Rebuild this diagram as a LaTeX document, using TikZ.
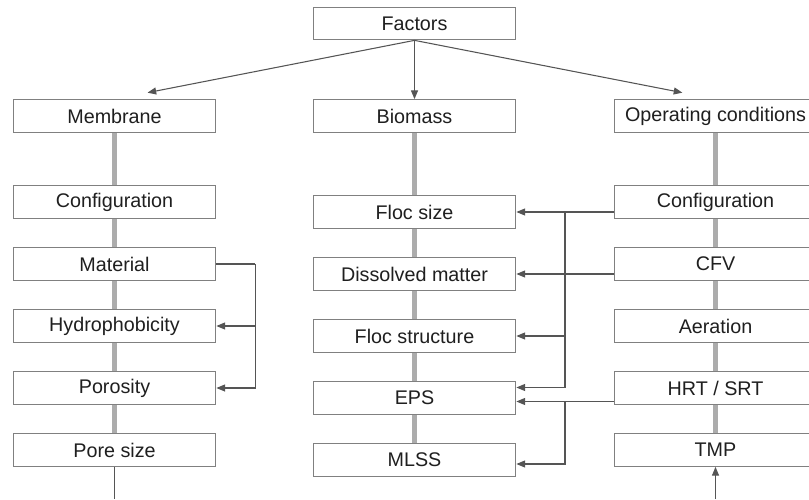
\documentclass[tikz,border=0pt]{standalone}
\usepackage{fontspec}
\setmainfont{Liberation Sans}
\usetikzlibrary{
  arrows.meta,
  positioning,
  calc,
  backgrounds
}
\definecolor{boxgray}{RGB}{128,128,128}
\definecolor{linegray}{RGB}{85,85,85}
\definecolor{spinegray}{RGB}{172,172,172}

\begin{document}
\begin{tikzpicture}[x=0.75pt,y=-0.75pt,
  box/.style={draw=boxgray,fill=white,line width=0.8pt,minimum width=152pt,
    minimum height=24.5pt,inner sep=0pt,text=black!88,
    font=\fontsize{14.8}{17}\selectfont},
  spine/.style={draw=black!45,line width=0.5pt,double=spinegray,double distance=3.4pt},
  conn/.style={draw=linegray,line width=0.8pt},
  arr/.style={conn,-{Triangle[length=6.5pt,width=5.2pt]}}]
  \useasboundingbox (0,0) rectangle (809,499);

  % top level
  \node[box] (fac) at (414.5,23.5) {Factors};
  \node[box] (mem) at (114.5,116) {Membrane};
  \node[box] (bio) at (414.5,116) {Biomass};
  \node[box] (opc) at (715.5,116) {Operating conditions};

  % membrane column
  \node[box] (mcfg) at (114.5,202) {Configuration};
  \node[box] (mat)  at (114.5,264) {Material};
  \node[box] (hyd)  at (114.5,326) {Hydrophobicity};
  \node[box] (por)  at (114.5,388) {Porosity};
  \node[box] (pore) at (114.5,450) {Pore size};

  % biomass column
  \node[box] (fls) at (414.5,212) {Floc size};
  \node[box] (dis) at (414.5,274) {Dissolved matter};
  \node[box] (fst) at (414.5,336) {Floc structure};
  \node[box] (eps) at (414.5,398) {EPS};
  \node[box] (mls) at (414.5,460) {MLSS};

  % operating conditions column
  \node[box] (ocfg) at (715.5,202) {Configuration};
  \node[box] (cfv)  at (715.5,264) {CFV};
  \node[box] (aer)  at (715.5,326) {Aeration};
  \node[box] (hrt)  at (715.5,388) {HRT / SRT};
  \node[box] (tmp)  at (715.5,450) {TMP};

  \begin{scope}[on background layer]
    \draw[spine] (mem) -- (pore);
    \draw[spine] (bio) -- (mls);
    \draw[spine] (opc) -- (tmp);
  \end{scope}

  % from the top box
  \draw[arr] (fac.south) -- ($(fac.south)!0.89!(mem.north)$);
  \draw[arr] (fac.south) -- (bio.north);
  \draw[arr] (fac.south) -- ($(fac.south)!0.89!(opc.north)$);

  % loose ends at the bottom
  \coordinate (mout) at (114.5,499);
  \coordinate (oin) at (715.5,499);
  \draw[conn] (pore.south) -- (mout);
  \draw[arr] (oin) -- (tmp.south);

  % membrane links
  \draw[conn] (mat.east) -- ++(39,0) coordinate (mjn);
  \draw[arr] (mjn) |- (por.east);
  \draw[arr] (mjn |- hyd.east) -- (hyd.east);

  % operating conditions -> biomass
  \coordinate (bjn) at ($(fls.east)!0.5!(ocfg.west |- fls.east)$);
  \coordinate (eup) at ($(eps.east)+(0,-10.5)$);
  \coordinate (elo) at ($(eps.east)+(0,3.5)$);
  \draw[arr] (ocfg.west |- fls.east) -- (fls.east);
  \draw[arr] (bjn) |- (eup);
  \draw[arr] (bjn |- fst.east) -- (fst.east);
  \draw[arr] (cfv.west |- dis.east) -- (dis.east);
  \draw[arr] (hrt.west |- elo) -- (elo);
  \draw[arr] (bjn |- elo) |- ($(mls.east)+(0,4)$);
\end{tikzpicture}
\end{document}
